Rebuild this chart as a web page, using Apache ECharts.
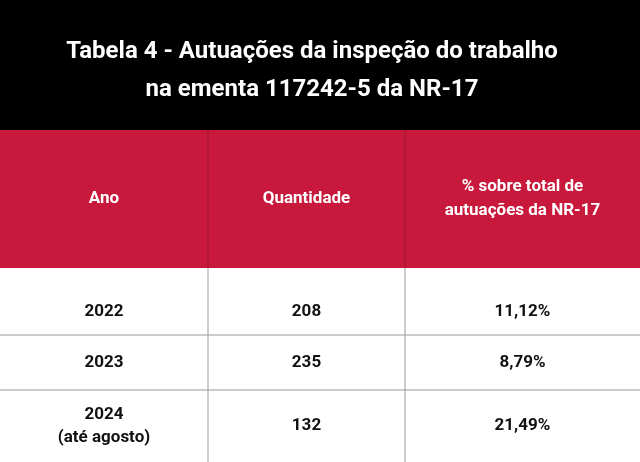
<!DOCTYPE html>
<html lang="pt">
<head>
<meta charset="UTF-8">
<script src="https://cdn.jsdelivr.net/npm/echarts@6/dist/echarts.min.js"></script>
<style>html,body{margin:0;padding:0;background:#fff}</style>
</head>
<body>
<div id="main" style="width:640px;height:462px;"></div>
<script>
var titulo = ['Tabela 4 - Autuações da inspeção do trabalho', 'na ementa 117242-5 da NR-17'];
var cabecalho = ['Ano', 'Quantidade', '% sobre total de\nautuações da NR-17'];
var anos = ['2022', '2023', '2024\n(até agosto)'];
var quantidades = [208, 235, 132];
var percentuais = ['11,12%', '8,79%', '21,49%'];

var colX = [0, 208, 405, 640];
var rowY = [268, 335, 390, 462];
var font = 'Roboto, "Noto Sans", sans-serif';

var g = [];
g.push({ type: 'rect', shape: { x: 0, y: 0, width: 640, height: 130 }, style: { fill: '#000' } });
g.push({ type: 'rect', shape: { x: 0, y: 130, width: 640, height: 138 }, style: { fill: '#c8193c' } });
titulo.forEach(function (t, i) {
    g.push({ type: 'text', x: 312, y: 52 + i * 38, style: { text: t, fill: '#fff', font: 'bold 24px ' + font, align: 'center', verticalAlign: 'middle' } });
});
// header column separators
[1, 2].forEach(function (c) {
    g.push({ type: 'line', shape: { x1: colX[c], y1: 130, x2: colX[c], y2: 268 }, style: { stroke: '#a01530', lineWidth: 1 } });
});
cabecalho.forEach(function (t, c) {
    g.push({ type: 'text', x: (colX[c] + colX[c + 1]) / 2, y: 199, style: { text: t, fill: '#fff', font: 'bold 17px ' + font, align: 'center', verticalAlign: 'middle', lineHeight: 24 } });
});
// body grid
[1, 2].forEach(function (r) {
    g.push({ type: 'line', shape: { x1: 0, y1: rowY[r], x2: 640, y2: rowY[r] }, style: { stroke: '#999', lineWidth: 1 } });
});
[1, 2].forEach(function (c) {
    g.push({ type: 'line', shape: { x1: colX[c], y1: 268, x2: colX[c], y2: 462 }, style: { stroke: '#999', lineWidth: 1 } });
});
anos.forEach(function (a, r) {
    var cy = (rowY[r] + rowY[r + 1]) / 2 + (r === 0 ? 10 : 0);
    var vals = [a, String(quantidades[r]), percentuais[r]];
    vals.forEach(function (v, c) {
        g.push({ type: 'text', x: (colX[c] + colX[c + 1]) / 2, y: cy, style: { text: v, fill: '#111', font: 'bold 17px ' + font, align: 'center', verticalAlign: 'middle', lineHeight: 23 } });
    });
});

var chart = echarts.init(document.getElementById('main'));
chart.setOption({ animation: false, graphic: g });
</script>
</body>
</html>
